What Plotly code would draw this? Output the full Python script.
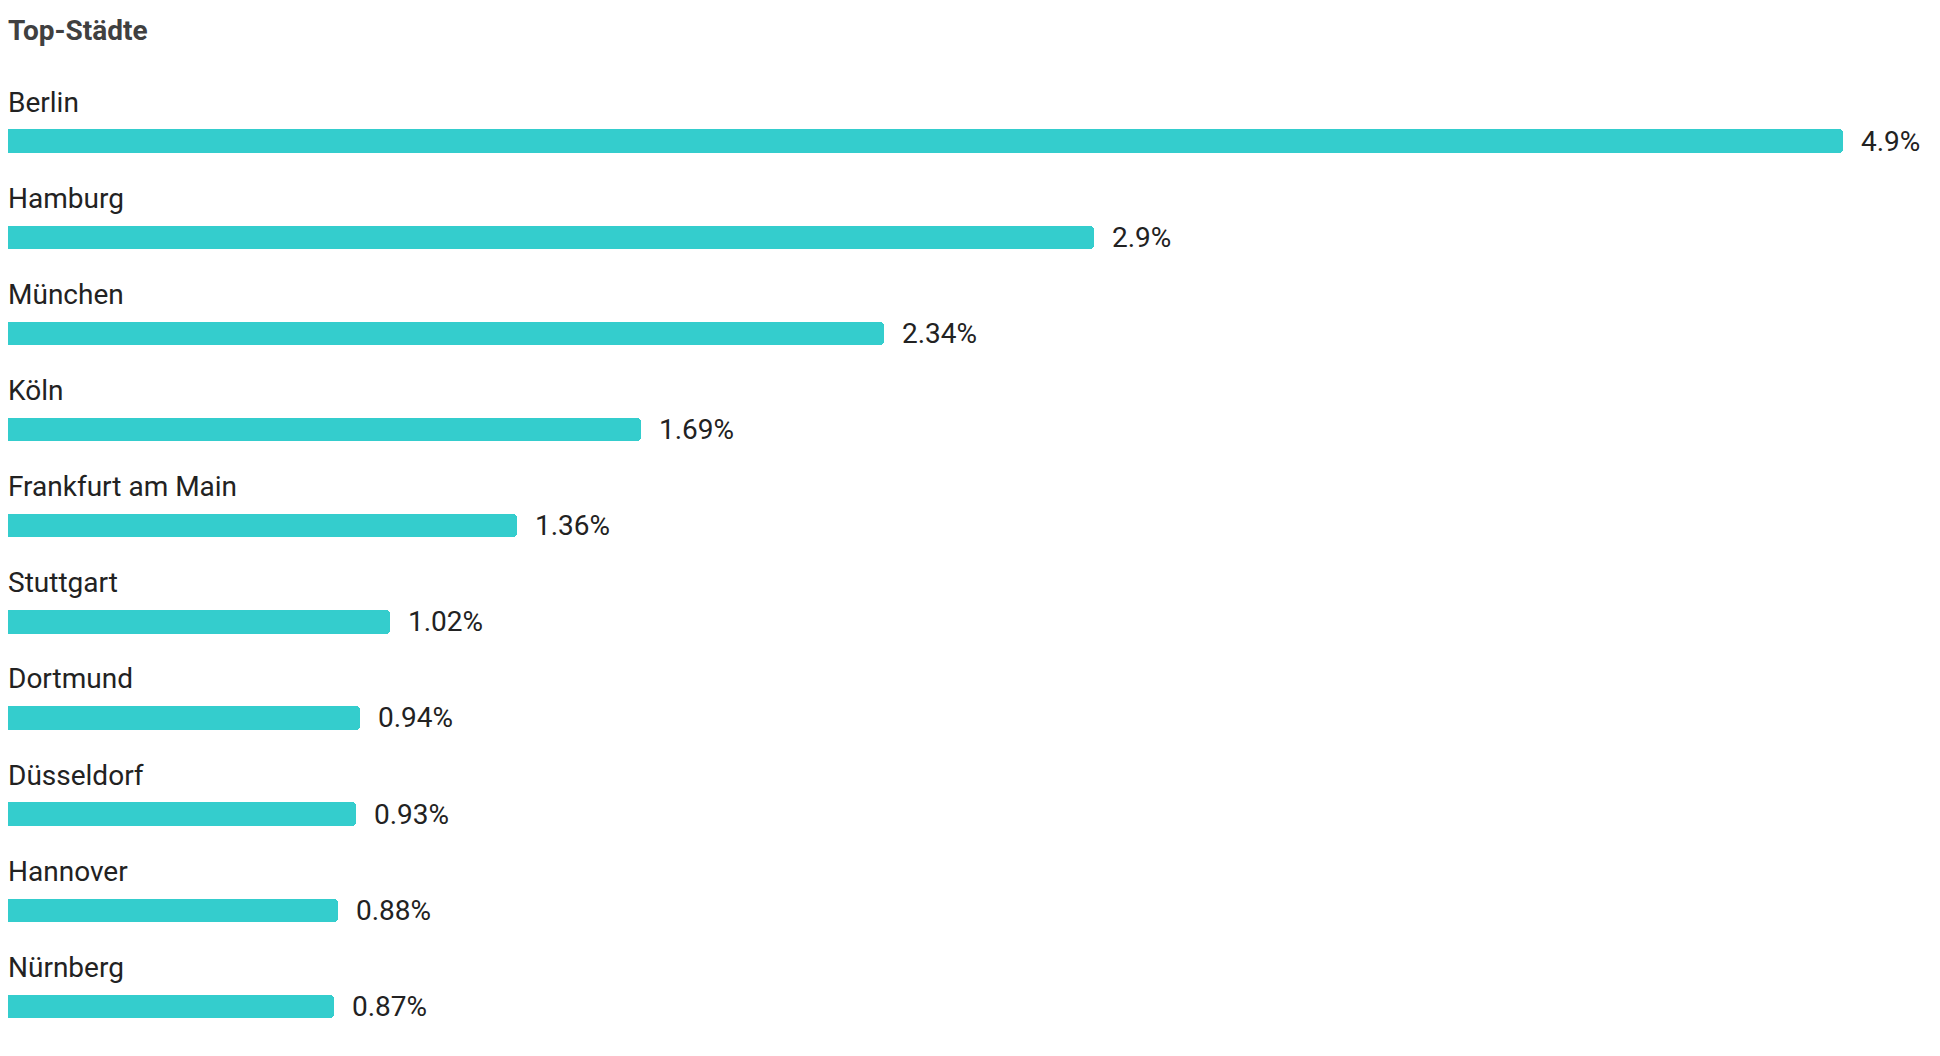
import plotly.graph_objects as go

# ------------------------------------------------------
# Daten
# ------------------------------------------------------
staedte = ["Berlin", "Hamburg", "München", "Köln", "Frankfurt am Main",
           "Stuttgart", "Dortmund", "Düsseldorf", "Hannover", "Nürnberg"]
anteile = [4.9, 2.9, 2.34, 1.69, 1.36, 1.02, 0.94, 0.93, 0.88, 0.87]
beschriftung = ["4.9%", "2.9%", "2.34%", "1.69%", "1.36%",
                "1.02%", "0.94%", "0.93%", "0.88%", "0.87%"]

TUERKIS = "#34CDCD"
TEXT = "#222222"
TITEL = "#404040"
SCHRIFT = "Roboto"

# Seite hat 8px body-Rand
B, H = 1924, 1040
ZEILE = 96.15  # px pro Stadt

fig = go.Figure()

fig.add_trace(go.Bar(
    x=anteile, y=staedte, orientation="h",
    marker=dict(color=TUERKIS, cornerradius=4, line=dict(width=0)),
    width=0.243, hoverinfo="skip", showlegend=False,
))

# Städtenamen über den Balken
for s in staedte:
    fig.add_annotation(x=0, y=s, xref="x", yref="y", text=s, showarrow=False,
                       xanchor="left", yanchor="middle", yshift=39, xshift=-2,
                       font=dict(family=SCHRIFT, size=28, color=TEXT))

# Werte rechts neben den Balken
for s, v, t in zip(staedte, anteile, beschriftung):
    fig.add_annotation(x=v, y=s, xref="x", yref="y", text=t, showarrow=False,
                       xanchor="left", yanchor="middle", xshift=16, yshift=0,
                       font=dict(family=SCHRIFT, size=28, color=TEXT))

oben = 85
fig.update_layout(
    width=B, height=H,
    margin=dict(l=0, r=0, t=oben, b=0),
    paper_bgcolor="white", plot_bgcolor="white",
    title=dict(text="<b>Top-Städte</b>", xref="container", yref="container",
               x=0, y=1 - 22 / H, xanchor="left", yanchor="middle",
               pad=dict(l=0, t=0, b=0, r=0),
               font=dict(family=SCHRIFT, size=28, color=TITEL)),
    font=dict(family=SCHRIFT),
    bargap=0,
)

fig.update_xaxes(range=[0, B / 374.5], visible=False, fixedrange=True)
fig.update_yaxes(categoryorder="array", categoryarray=staedte,
                 range=[-0.5 + (H - oben) / ZEILE, -0.5],
                 visible=False, fixedrange=True)

fig.write_html("out.html", config={"displayModeBar": False})
